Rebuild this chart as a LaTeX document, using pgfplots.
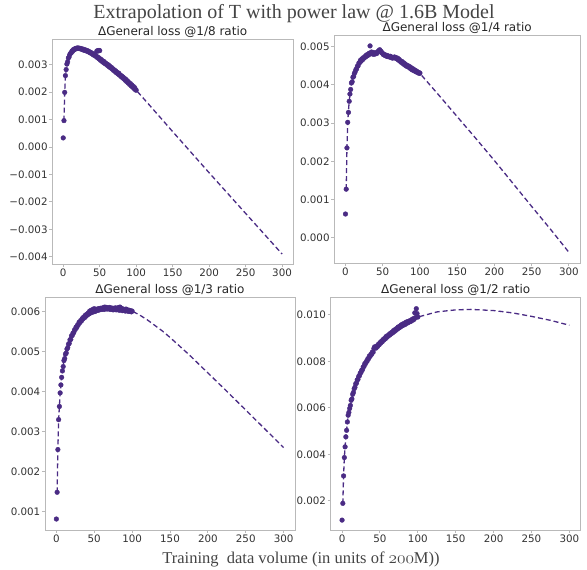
\documentclass[border=0pt]{standalone}
\usepackage{fontspec}
\usepackage{pgfplots}
\pgfplotsset{compat=1.18}
\newfontfamily\djv{DejaVu Sans}
\newfontfamily\ser{Liberation Serif}
\definecolor{pp}{RGB}{74,43,132}
\definecolor{spine}{RGB}{185,185,185}
\definecolor{tl}{RGB}{50,50,50}
\definecolor{ttl}{RGB}{68,68,68}
\pgfplotsset{
  sub/.style={scale only axis, anchor=south west, xmin=-15, xmax=315,
    xtick={0,50,100,150,200,250,300}, xticklabels={0,50,100,150,200,250,300},
    tick align=outside, tick pos=left, scaled y ticks=false,
    axis line style={spine, line width=0.9pt},
    major tick style={spine, line width=0.9pt}, major tick length=3pt,
    tick label style={font=\djv\fontsize{10.3}{12}\selectfont, text=tl},
    yticklabel style={inner xsep=1.5pt},
    xticklabel style={inner ysep=1.5pt},
    every axis title shift=0pt,
    title style={font=\djv\fontsize{12}{14}\selectfont, text=black!85, at={(0.5,1)}, anchor=base, yshift=4pt},
  },
  pts/.style={only marks, mark=*, mark size=2.35pt, mark options={draw=pp, fill=pp}},
  fit/.style={pp, no marks, line width=1.3pt, dash pattern=on 5pt off 3pt},
}
\begin{document}
\begin{tikzpicture}
\path[use as bounding box] (0pt,0pt) rectangle (587pt,570pt);
% ---------------- 1/8 ----------------
\begin{axis}[sub, at={(52.3pt,305.6pt)}, width=240.7pt, height=225pt,
  ymin=-0.00428, ymax=0.00392,
  ytick={-0.004,-0.003,-0.002,-0.001,0,0.001,0.002,0.003},
  yticklabels={−0.004,−0.003,−0.002,−0.001,0.000,0.001,0.002,0.003},
  title={ΔGeneral loss @1/8 ratio}]
\addplot[pts] table {
x y
0 0.33e-3
1 0.96e-3
2 1.99e-3
3 2.60e-3
4 2.82e-3
5 3.02e-3
6 3.10e-3
7 3.24e-3
8 3.28e-3
9 3.37e-3
10 3.41e-3
11 3.43e-3
12 3.50e-3
13 3.49e-3
14 3.55e-3
15 3.54e-3
16 3.58e-3
17 3.57e-3
18 3.60e-3
19 3.59e-3
20 3.61e-3
21 3.59e-3
22 3.60e-3
23 3.58e-3
24 3.59e-3
25 3.56e-3
26 3.57e-3
27 3.54e-3
28 3.56e-3
29 3.52e-3
30 3.54e-3
31 3.51e-3
32 3.52e-3
33 3.48e-3
34 3.50e-3
35 3.46e-3
36 3.47e-3
37 3.43e-3
38 3.44e-3
39 3.40e-3
40 3.41e-3
41 3.36e-3
42 3.38e-3
43 3.33e-3
44 3.35e-3
45 3.30e-3
46 3.29e-3
46 3.49e-3
47 3.51e-3
48 3.50e-3
49 3.52e-3
50 3.51e-3
47 3.25e-3
48 3.27e-3
49 3.21e-3
50 3.22e-3
51 3.16e-3
52 3.19e-3
53 3.12e-3
54 3.14e-3
55 3.08e-3
56 3.11e-3
57 3.04e-3
58 3.06e-3
59 3.01e-3
60 3.02e-3
61 2.96e-3
62 2.99e-3
63 2.92e-3
64 2.94e-3
65 2.88e-3
66 2.90e-3
67 2.84e-3
68 2.85e-3
69 2.79e-3
70 2.81e-3
71 2.75e-3
72 2.77e-3
73 2.70e-3
74 2.72e-3
75 2.66e-3
76 2.69e-3
77 2.62e-3
78 2.63e-3
79 2.57e-3
80 2.59e-3
81 2.53e-3
82 2.55e-3
83 2.48e-3
84 2.50e-3
85 2.43e-3
86 2.46e-3
87 2.38e-3
88 2.41e-3
89 2.33e-3
90 2.35e-3
91 2.28e-3
92 2.31e-3
93 2.23e-3
94 2.26e-3
95 2.18e-3
96 2.21e-3
97 2.13e-3
98 2.16e-3
99 2.08e-3
100 2.07e-3
};
\addplot[fit] table {
x y
1 0.96e-3
2 1.99e-3
3 2.55e-3
4 2.82e-3
5 3.00e-3
6 3.12e-3
7 3.22e-3
8 3.30e-3
10 3.41e-3
12 3.48e-3
15 3.56e-3
18 3.59e-3
20 3.60e-3
22 3.60e-3
25 3.58e-3
30 3.53e-3
35 3.47e-3
40 3.39e-3
45 3.30e-3
50 3.20e-3
55 3.10e-3
60 3.00e-3
65 2.89e-3
70 2.79e-3
75 2.68e-3
80 2.57e-3
85 2.45e-3
90 2.33e-3
95 2.20e-3
100 2.07e-3
120 1.47e-3
150 0.56e-3
200 -0.94e-3
250 -2.42e-3
300 -3.90e-3
};
\end{axis}
% ---------------- 1/4 ----------------
\begin{axis}[sub, at={(334.3pt,306.7pt)}, width=245.7pt, height=227.7pt,
  ymin=-0.00067, ymax=0.00529,
  ytick={0,0.001,0.002,0.003,0.004,0.005},
  yticklabels={0.000,0.001,0.002,0.003,0.004,0.005},
  title={ΔGeneral loss @1/4 ratio}]
\addplot[pts] table {
x y
0 0.62e-3
1 1.27e-3
2 2.35e-3
3 3.02e-3
4 3.28e-3
5 3.57e-3
6 3.76e-3
7 3.88e-3
8 4.05e-3
9 4.08e-3
10 4.20e-3
11 4.22e-3
12 4.30e-3
13 4.34e-3
14 4.40e-3
15 4.42e-3
16 4.49e-3
17 4.50e-3
18 4.57e-3
19 4.58e-3
20 4.64e-3
21 4.62e-3
22 4.68e-3
23 4.66e-3
24 4.71e-3
25 4.70e-3
26 4.74e-3
27 4.73e-3
28 4.78e-3
29 4.76e-3
30 4.80e-3
31 4.78e-3
32 4.83e-3
33 5.02e-3
34 4.82e-3
35 4.86e-3
36 4.81e-3
37 4.85e-3
38 4.80e-3
39 4.83e-3
40 4.81e-3
41 4.84e-3
42 4.82e-3
43 4.86e-3
44 4.88e-3
45 4.90e-3
46 4.92e-3
47 4.89e-3
48 4.87e-3
49 4.84e-3
50 4.82e-3
51 4.79e-3
52 4.80e-3
53 4.77e-3
54 4.78e-3
55 4.75e-3
56 4.77e-3
57 4.74e-3
58 4.75e-3
59 4.73e-3
60 4.75e-3
61 4.72e-3
62 4.73e-3
63 4.70e-3
64 4.72e-3
65 4.71e-3
66 4.73e-3
67 4.70e-3
68 4.71e-3
69 4.68e-3
70 4.70e-3
71 4.65e-3
72 4.67e-3
73 4.62e-3
74 4.63e-3
75 4.59e-3
76 4.61e-3
77 4.56e-3
78 4.58e-3
79 4.53e-3
80 4.55e-3
81 4.50e-3
82 4.52e-3
83 4.48e-3
84 4.50e-3
85 4.46e-3
86 4.48e-3
87 4.43e-3
88 4.45e-3
89 4.40e-3
90 4.43e-3
91 4.38e-3
92 4.40e-3
93 4.36e-3
94 4.38e-3
95 4.34e-3
96 4.35e-3
97 4.32e-3
98 4.33e-3
99 4.30e-3
100 4.31e-3
};
\addplot[fit] table {
x y
1 1.27e-3
2 2.36e-3
3 3.00e-3
4 3.32e-3
5 3.56e-3
6 3.74e-3
7 3.88e-3
8 4.00e-3
9 4.10e-3
10 4.18e-3
12 4.31e-3
15 4.45e-3
18 4.56e-3
20 4.62e-3
25 4.72e-3
30 4.79e-3
35 4.82e-3
40 4.83e-3
45 4.82e-3
50 4.80e-3
55 4.78e-3
60 4.75e-3
65 4.71e-3
70 4.67e-3
75 4.62e-3
80 4.56e-3
85 4.50e-3
90 4.44e-3
95 4.37e-3
100 4.30e-3
125 3.74e-3
150 3.17e-3
175 2.60e-3
200 2.02e-3
225 1.42e-3
250 0.82e-3
275 0.23e-3
300 -0.38e-3
};
\end{axis}
% ---------------- 1/3 ----------------
\begin{axis}[sub, at={(45pt,40pt)}, width=250pt, height=232.7pt,
  ymin=0.000535, ymax=0.006365,
  ytick={0.001,0.002,0.003,0.004,0.005,0.006},
  yticklabels={0.001,0.002,0.003,0.004,0.005,0.006},
  title={ΔGeneral loss @1/3 ratio}]
\addplot[pts] table {
x y
0 0.81e-3
1 1.48e-3
2 2.55e-3
3 3.30e-3
4 3.63e-3
5 3.97e-3
6 4.17e-3
7 4.36e-3
8 4.52e-3
9 4.63e-3
10 4.78e-3
11 4.83e-3
12 4.94e-3
13 4.97e-3
14 5.07e-3
15 5.10e-3
16 5.19e-3
17 5.21e-3
18 5.30e-3
19 5.31e-3
20 5.40e-3
21 5.41e-3
22 5.47e-3
23 5.48e-3
24 5.55e-3
25 5.56e-3
26 5.62e-3
27 5.61e-3
28 5.67e-3
29 5.68e-3
30 5.74e-3
31 5.73e-3
32 5.78e-3
33 5.77e-3
34 5.83e-3
35 5.82e-3
36 5.87e-3
37 5.85e-3
38 5.91e-3
39 5.89e-3
40 5.94e-3
41 5.92e-3
42 5.97e-3
43 5.95e-3
44 6.02e-3
45 5.97e-3
46 6.04e-3
47 5.99e-3
48 6.06e-3
49 6.00e-3
50 6.08e-3
51 6.01e-3
52 6.05e-3
53 6.03e-3
54 6.07e-3
55 6.04e-3
56 6.08e-3
57 6.05e-3
58 6.09e-3
59 6.06e-3
60 6.08e-3
61 6.07e-3
62 6.11e-3
63 6.06e-3
64 6.12e-3
65 6.08e-3
66 6.11e-3
67 6.07e-3
68 6.10e-3
69 6.08e-3
70 6.11e-3
71 6.06e-3
72 6.10e-3
73 6.07e-3
74 6.09e-3
75 6.05e-3
76 6.09e-3
77 6.06e-3
78 6.10e-3
79 6.05e-3
80 6.09e-3
81 6.06e-3
82 6.11e-3
83 6.04e-3
84 6.12e-3
85 6.05e-3
86 6.09e-3
87 6.03e-3
88 6.07e-3
89 6.04e-3
90 6.06e-3
91 6.02e-3
92 6.07e-3
93 6.03e-3
94 6.05e-3
95 6.01e-3
96 6.04e-3
97 6.02e-3
98 6.03e-3
99 6.00e-3
100 6.02e-3
};
\addplot[fit] table {
x y
1 1.48e-3
2 2.56e-3
3 3.30e-3
4 3.63e-3
5 3.96e-3
6 4.17e-3
7 4.36e-3
8 4.52e-3
9 4.65e-3
10 4.77e-3
12 4.92e-3
14 5.05e-3
16 5.17e-3
18 5.28e-3
20 5.38e-3
25 5.58e-3
30 5.72e-3
35 5.83e-3
40 5.92e-3
45 5.98e-3
50 6.03e-3
55 6.06e-3
60 6.08e-3
65 6.09e-3
70 6.10e-3
75 6.10e-3
80 6.09e-3
85 6.08e-3
90 6.06e-3
95 6.04e-3
100 6.02e-3
110 5.92e-3
120 5.80e-3
130 5.66e-3
140 5.52e-3
150 5.36e-3
175 4.93e-3
200 4.47e-3
225 4.01e-3
250 3.54e-3
275 3.07e-3
300 2.60e-3
};
\end{axis}
% ---------------- 1/2 ----------------
\begin{axis}[sub, at={(330.7pt,40pt)}, width=250pt, height=232.7pt,
  ymin=0.000745, ymax=0.01075,
  ytick={0.002,0.004,0.006,0.008,0.010},
  yticklabels={0.002,0.004,0.006,0.008,0.010},
  title={ΔGeneral loss @1/2 ratio}]
\addplot[pts] table {
x y
0 1.17e-3
1 1.89e-3
2 3.07e-3
3 3.86e-3
4 4.32e-3
5 4.75e-3
6 5.03e-3
7 5.39e-3
8 5.68e-3
9 5.80e-3
10 5.97e-3
11 6.10e-3
12 6.32e-3
13 6.38e-3
14 6.58e-3
15 6.66e-3
16 6.82e-3
17 6.88e-3
18 7.03e-3
19 7.06e-3
20 7.20e-3
21 7.22e-3
22 7.35e-3
23 7.38e-3
24 7.49e-3
25 7.52e-3
26 7.62e-3
27 7.64e-3
28 7.76e-3
29 7.78e-3
30 7.90e-3
31 7.90e-3
32 7.99e-3
33 8.00e-3
34 8.11e-3
35 8.11e-3
36 8.22e-3
37 8.21e-3
38 8.30e-3
39 8.30e-3
40 8.40e-3
41 8.39e-3
42 8.55e-3
43 8.62e-3
44 8.58e-3
45 8.57e-3
46 8.66e-3
47 8.64e-3
48 8.73e-3
49 8.71e-3
50 8.80e-3
51 8.78e-3
52 8.86e-3
53 8.84e-3
54 8.93e-3
55 8.91e-3
56 8.98e-3
57 8.96e-3
58 9.06e-3
59 9.03e-3
60 9.10e-3
61 9.08e-3
62 9.15e-3
63 9.13e-3
64 9.21e-3
65 9.18e-3
66 9.25e-3
67 9.23e-3
68 9.32e-3
69 9.28e-3
70 9.36e-3
71 9.33e-3
72 9.41e-3
73 9.38e-3
74 9.47e-3
75 9.43e-3
76 9.51e-3
77 9.47e-3
78 9.56e-3
79 9.52e-3
80 9.60e-3
81 9.55e-3
82 9.62e-3
83 9.58e-3
84 9.67e-3
85 9.62e-3
86 9.70e-3
87 9.66e-3
88 9.72e-3
89 9.69e-3
90 9.75e-3
91 9.72e-3
92 9.79e-3
93 9.76e-3
94 9.83e-3
95 9.80e-3
96 10.08e-3
97 9.88e-3
98 10.26e-3
99 10.05e-3
100 9.90e-3
};
\addplot[fit] table {
x y
1 1.89e-3
2 3.07e-3
3 3.86e-3
4 4.32e-3
5 4.75e-3
6 5.03e-3
7 5.36e-3
8 5.62e-3
9 5.82e-3
10 5.97e-3
12 6.27e-3
15 6.68e-3
18 7.00e-3
20 7.17e-3
25 7.55e-3
30 7.87e-3
35 8.14e-3
40 8.38e-3
45 8.59e-3
50 8.78e-3
55 8.94e-3
60 9.08e-3
65 9.21e-3
70 9.33e-3
75 9.45e-3
80 9.55e-3
85 9.65e-3
90 9.74e-3
95 9.82e-3
100 9.90e-3
125 10.12e-3
150 10.21e-3
170 10.23e-3
200 10.18e-3
225 10.08e-3
250 9.93e-3
275 9.76e-3
300 9.55e-3
};
\end{axis}
\node[font=\ser\fontsize{20}{22}\selectfont, text=ttl, anchor=base] at (294pt,551pt) {Extrapolation of T with power law @ 1.6B Model};
\node[font=\ser\fontsize{16.5}{18}\selectfont, text=ttl, anchor=base] at (301pt,6pt) {Training\ \ data volume (in units of {\usefont{OML}{cmm}{m}{it}200}M))};
\end{tikzpicture}
\end{document}
